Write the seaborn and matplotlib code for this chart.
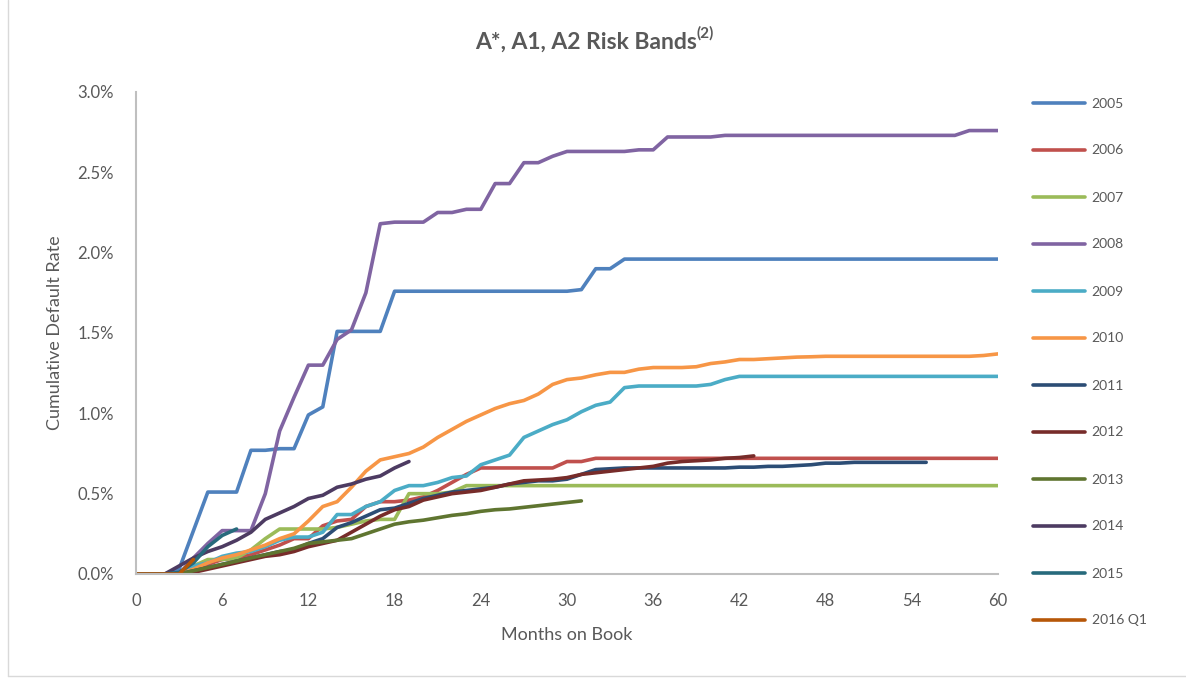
import numpy as np
import pandas as pd
import matplotlib
matplotlib.use('Agg')
import matplotlib.pyplot as plt
from matplotlib.lines import Line2D
import seaborn as sns

sns.set_style('white')
plt.rcParams['font.family'] = ['Lato', 'DejaVu Sans']

# cumulative default rate (%) by months on book, one list per vintage
vintages = ['2005', '2006', '2007', '2008', '2009', '2010',
            '2011', '2012', '2013', '2014', '2015', '2016 Q1']
colors = ['#4F81BD', '#C0504D', '#9BBB59', '#8064A2', '#4BACC6', '#F79646',
          '#2C4D75', '#772C2A', '#5F7530', '#4D3B62', '#276A7C', '#B65708']

rate_2005 = ([0, 0, 0, 0.03, 0.27, 0.51, 0.51, 0.51, 0.77, 0.77, 0.78, 0.78,
              0.99, 1.04, 1.51, 1.51, 1.51, 1.51] + [1.76] * 13 +
             [1.77, 1.90, 1.90] + [1.96] * 27)
rate_2006 = ([0, 0, 0, 0, 0.03, 0.06, 0.09, 0.10, 0.12, 0.15, 0.18, 0.22, 0.22,
              0.30, 0.33, 0.34, 0.42, 0.45, 0.45, 0.46, 0.48, 0.52, 0.57, 0.62,
              0.66] + [0.66] * 5 + [0.70, 0.70] + [0.72] * 29)
rate_2007 = ([0, 0, 0, 0, 0.05, 0.09, 0.09, 0.10, 0.15, 0.22, 0.28, 0.28, 0.28,
              0.28, 0.29, 0.31, 0.33, 0.34, 0.34, 0.50, 0.50, 0.50, 0.51] +
             [0.55] * 38)
rate_2008 = ([0, 0, 0, 0, 0.10, 0.19, 0.27, 0.27, 0.27, 0.50, 0.89, 1.10, 1.30,
              1.30, 1.46, 1.52, 1.75, 2.18, 2.19, 2.19, 2.19, 2.25, 2.25, 2.27,
              2.27, 2.43, 2.43, 2.56, 2.56, 2.60] + [2.63] * 5 + [2.64, 2.64] +
             [2.72] * 4 + [2.73] * 17 + [2.76] * 3)
rate_2009 = ([0, 0, 0, 0, 0.05, 0.07, 0.11, 0.13, 0.14, 0.17, 0.21, 0.23, 0.23,
              0.26, 0.37, 0.37, 0.42, 0.45, 0.52, 0.55, 0.55, 0.57, 0.60, 0.61,
              0.68, 0.71, 0.74, 0.85, 0.89, 0.93, 0.96, 1.01, 1.05, 1.07, 1.16] +
             [1.17] * 5 + [1.18, 1.21] + [1.23] * 19)
rate_2010 = ([0, 0, 0, 0, 0.03, 0.07, 0.10, 0.12, 0.15, 0.18, 0.22, 0.25, 0.33,
              0.42, 0.45, 0.54, 0.64, 0.71, 0.73, 0.75, 0.79, 0.85, 0.90, 0.95,
              0.99, 1.03, 1.06, 1.08, 1.12, 1.18, 1.21, 1.22, 1.24, 1.255, 1.255,
              1.275, 1.285, 1.285, 1.285, 1.29, 1.31, 1.32, 1.335, 1.335, 1.34,
              1.345, 1.35, 1.352] + [1.355] * 11 + [1.36, 1.37])
rate_2011 = ([0, 0, 0, 0, 0.02, 0.04, 0.06, 0.08, 0.10, 0.12, 0.14, 0.15, 0.19,
              0.22, 0.29, 0.32, 0.36, 0.40, 0.41, 0.44, 0.47, 0.49, 0.51, 0.52,
              0.53, 0.54, 0.56, 0.57, 0.58, 0.58, 0.59, 0.62, 0.65, 0.655] +
             [0.66] * 8 + [0.665, 0.665, 0.67, 0.67, 0.675, 0.68, 0.69, 0.69,
                           0.695] + [0.695] * 5)
rate_2012 = [0, 0, 0, 0, 0.01, 0.03, 0.05, 0.07, 0.09, 0.11, 0.12, 0.14, 0.17,
             0.19, 0.21, 0.26, 0.31, 0.36, 0.40, 0.42, 0.46, 0.48, 0.50, 0.51,
             0.52, 0.54, 0.56, 0.58, 0.585, 0.59, 0.60, 0.62, 0.63, 0.64, 0.65,
             0.66, 0.67, 0.69, 0.70, 0.705, 0.71, 0.72, 0.725, 0.735]
rate_2013 = [0, 0, 0, 0, 0.02, 0.04, 0.06, 0.08, 0.10, 0.12, 0.14, 0.16, 0.19,
             0.20, 0.21, 0.22, 0.25, 0.28, 0.31, 0.325, 0.335, 0.35, 0.365,
             0.375, 0.39, 0.40, 0.405, 0.415, 0.425, 0.435, 0.445, 0.455]
rate_2014 = [0, 0, 0, 0.05, 0.10, 0.14, 0.17, 0.21, 0.26, 0.34, 0.38, 0.42,
             0.47, 0.49, 0.54, 0.56, 0.59, 0.61, 0.66, 0.70]
rate_2015 = [0, 0, 0, 0.01, 0.07, 0.17, 0.24, 0.28]
rate_2016q1 = [0, 0, 0, 0, 0.09]

all_rates = [rate_2005, rate_2006, rate_2007, rate_2008, rate_2009, rate_2010,
             rate_2011, rate_2012, rate_2013, rate_2014, rate_2015, rate_2016q1]

frames = []
for name, vals in zip(vintages, all_rates):
    frames.append(pd.DataFrame({'month': np.arange(len(vals)), 'rate': vals,
                                'vintage': name}))
df = pd.concat(frames, ignore_index=True)

grey = '#595959'
fig = plt.figure(figsize=(11.86, 6.78), dpi=100)
ax = fig.add_axes([136 / 1186, 1 - 574 / 678, 862 / 1186, 482 / 678])

sns.lineplot(data=df, x='month', y='rate', hue='vintage', hue_order=vintages,
             palette=colors, linewidth=2.6, errorbar=None, sort=False, ax=ax)

ax.set_xlim(0, 60)
ax.set_ylim(0, 3.0)
ax.set_xticks(range(0, 61, 6))
ax.set_yticks(np.arange(0, 3.01, 0.5))
ax.yaxis.set_major_formatter(lambda v, p: f'{v:.1f}%')
ax.tick_params(length=0, labelsize=12, labelcolor=grey)
ax.tick_params(axis='x', pad=14)
ax.tick_params(axis='y', pad=16)
for s in ['top', 'right']:
    ax.spines[s].set_visible(False)
for s in ['left', 'bottom']:
    ax.spines[s].set_color('#BFBFBF')
    ax.spines[s].set_linewidth(1.5)

ax.set_xlabel('Months on Book', fontsize=13, color=grey)
ax.set_ylabel('Cumulative Default Rate', fontsize=13, color=grey)
ax.xaxis.label.set_verticalalignment('center')
ax.yaxis.label.set_verticalalignment('center')
ax.xaxis.set_label_coords(0.5, (574 - 635) / 482)
ax.yaxis.set_label_coords((55 - 136) / 862, 0.5)

# title with raised footnote marker
title = fig.text(475 / 1186, 1 - 42 / 678, 'A*, A1, A2 Risk Bands', ha='left',
                 va='center', fontsize=16.5, fontweight='bold', color=grey)
ax.annotate('(2)', xy=(1.0, 0.55), xycoords=title, ha='left', va='bottom',
            fontsize=11, fontweight='bold', color=grey, annotation_clip=False)

handles, labels = ax.get_legend_handles_labels()
ax.get_legend().remove()
fig.legend(handles, labels, loc='upper left',
           bbox_to_anchor=(1020 / 1186, 1 - 85 / 678), frameon=False,
           fontsize=10, labelcolor=grey, labelspacing=2.52, handlelength=3.8,
           handletextpad=0.45)

# faint chart-area border
fig.add_artist(Line2D([8 / 1186, 8 / 1186], [0.003, 1], color='#D9D9D9', lw=1))
fig.add_artist(Line2D([8 / 1186, 1], [0.003, 0.003], color='#D9D9D9', lw=1))

fig.savefig('out.png', dpi=100)
